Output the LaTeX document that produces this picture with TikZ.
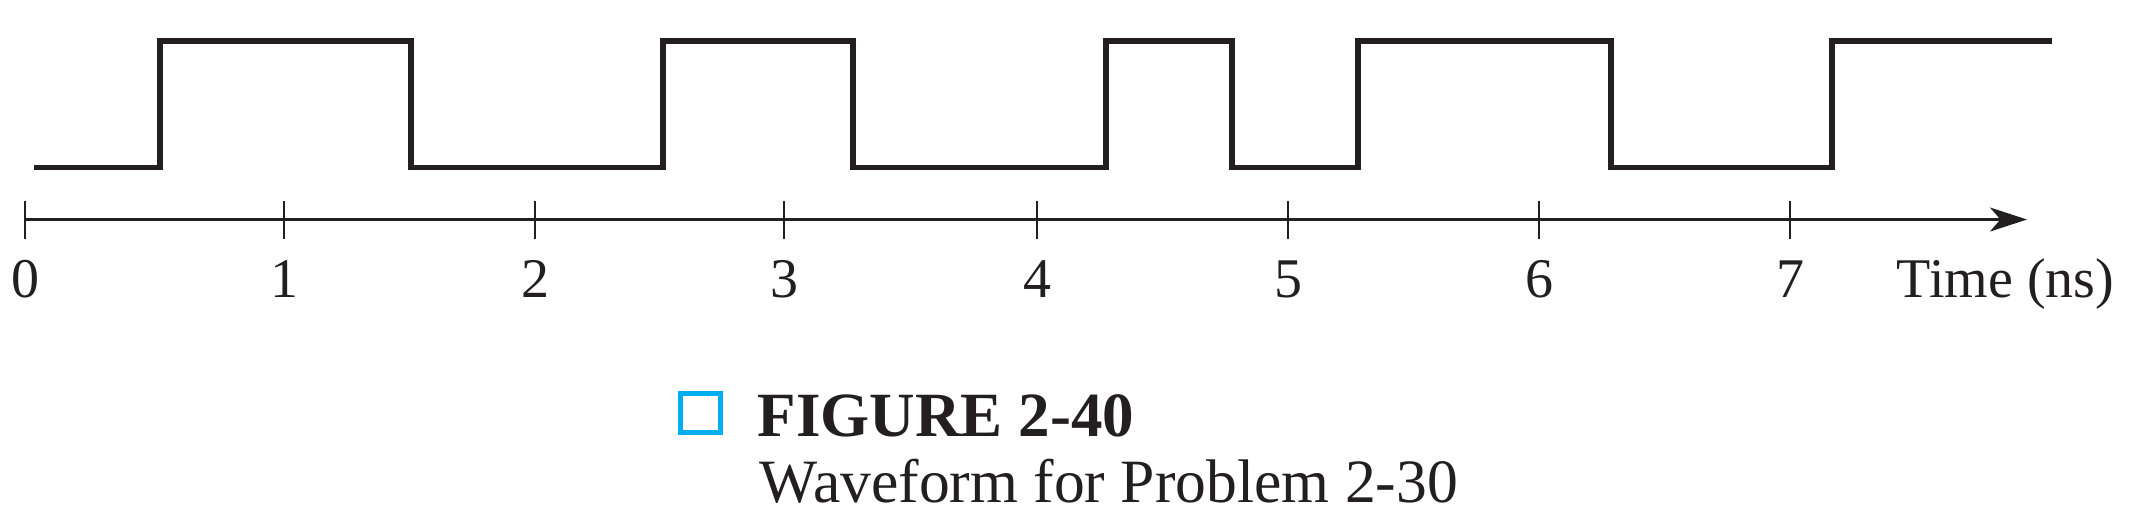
\documentclass[tikz,border=0pt]{standalone}
\usepackage{fontspec}
\setmainfont{Liberation Serif}
\usetikzlibrary{arrows.meta}
\tikzset{
 ticklabel/.style={anchor=base,inner sep=0pt,font=\fontsize{14}{16}\selectfont},
 captext/.style={anchor=base west,inner sep=0pt}
}
\begin{document}
\begin{tikzpicture}[x=0.25pt,y=-0.25pt]
 \definecolor{figblue}{HTML}{00AEEF}
 \definecolor{ink}{HTML}{231F20}
 \useasboundingbox (0,0) rectangle (2134,529);
 % waveform
 \draw [ink,line width=1.45pt] (34,167.5) \foreach \x/\y in {160/41,411/167.5,663/41,853/167.5,1106/41,1232/167.5,1358/41,1611/167.5,1832/41} { -| (\x,\y) } -- (2052,41);
 % time axis
 \coordinate (axstart) at (25,219.5);
 \coordinate (axend) at (2027,219.5);
 \draw [ink,line width=0.55pt,-{Stealth[length=9.25pt,width=6pt,inset=2.6pt]}] (axstart) -- (axend);
 \foreach \x [count=\n from 0] in {25,284,535,784,1037,1288,1539,1790} {
  \draw [ink,line width=0.55pt] (\x,201) -- (\x,239);
  \node [ink,ticklabel] (t\n) at (\x,297) {\n};
 }
 \node [ink,ticklabel,anchor=base west] (timelabel) at (1896,297) {Time (ns)};
 % caption
 \draw [figblue,line width=1.25pt] (680.5,393.5) rectangle (720.5,432.5);
 \node [ink,captext,font=\fontsize{15.75}{18}\bfseries] (figno) at (757,436) {FIGURE 2-40};
 \node [ink,captext,font=\fontsize{15.4}{18}\selectfont] (figtitle) at (759,502) {Waveform for Problem 2-30};
\end{tikzpicture}
\end{document}
